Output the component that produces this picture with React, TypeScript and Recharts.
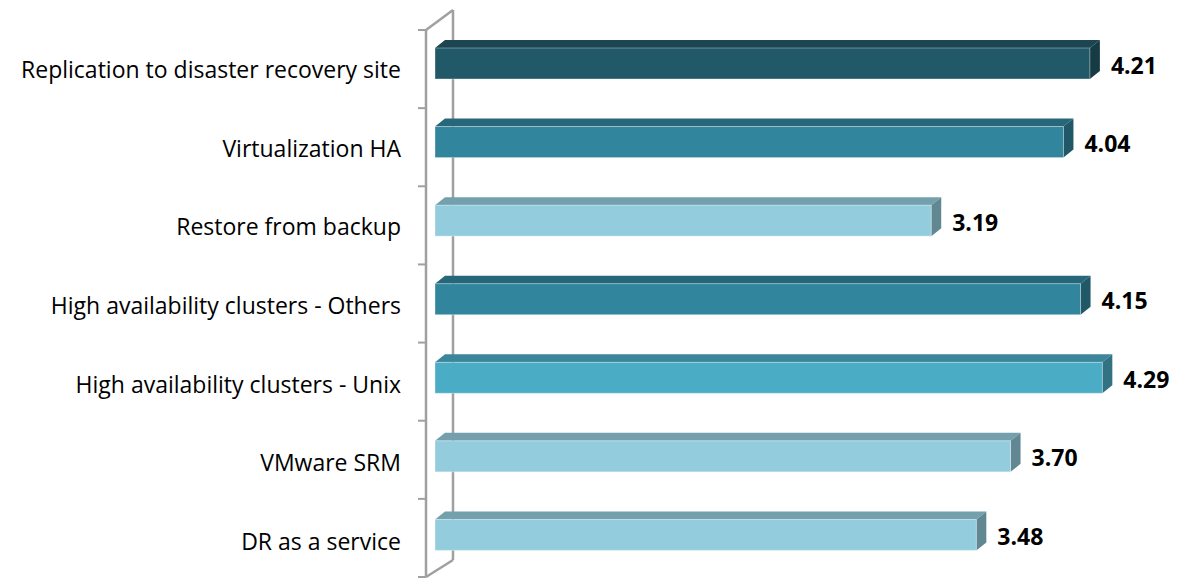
import React from 'react';
import { BarChart, Bar, XAxis, YAxis, LabelList, Customized } from 'recharts';

const categories = [
  'Replication to disaster recovery site',
  'Virtualization HA',
  'Restore from backup',
  'High availability clusters - Others',
  'High availability clusters - Unix',
  'VMware SRM',
  'DR as a service',
];
const values = [4.21, 4.04, 3.19, 4.15, 4.29, 3.7, 3.48];
const frontColors = ['#215968', '#31859C', '#93CDDD', '#31859C', '#4BACC6', '#93CDDD', '#93CDDD'];

const data = categories.map((name, i) => ({ name, value: values[i], idx: i }));

const W = 1190;
const H = 579;
const MARGIN = { top: 24, right: 55, bottom: 5, left: 0 };
const YW = 435;
const DX = 10;
const DY = 8;
const FONT = '"Open Sans", "Liberation Sans", sans-serif';

function shade(hex: string, f: number) {
  const n = parseInt(hex.slice(1), 16);
  const r = Math.round(((n >> 16) & 255) * f);
  const g = Math.round(((n >> 8) & 255) * f);
  const b = Math.round((n & 255) * f);
  return `rgb(${r},${g},${b})`;
}

const Bar3D = (props: any) => {
  const { x, y, width, height, index } = props;
  const c = frontColors[index % frontColors.length];
  const top = shade(c, 0.78);
  const side = shade(c, 0.66);
  return (
    <g>
      <polygon
        points={`${x},${y} ${x + DX},${y - DY} ${x + width + DX},${y - DY} ${x + width},${y}`}
        fill={top}
      />
      <polygon
        points={`${x + width},${y} ${x + width + DX},${y - DY} ${x + width + DX},${y + height - DY} ${x + width},${y + height}`}
        fill={side}
      />
      <rect x={x} y={y} width={width} height={height} fill={c} stroke="rgba(255,255,255,0.35)" strokeWidth={1} />
    </g>
  );
};

const Wall = () => {
  const left = MARGIN.left + YW;
  const top = MARGIN.top;
  const bottom = H - MARGIN.bottom;
  const fx = left - 9;
  const bx = left + 18;
  const ftop = top + 6;
  const btop = top - 14;
  const fbot = bottom + 3;
  const bbot = bottom - 14;
  const n = categories.length;
  const step = (fbot - ftop) / n;
  const ticks = Array.from({ length: n + 1 }, (_, i) => ftop + i * step);
  const stroke = '#A0A0A0';
  return (
    <g>
      <line x1={bx} y1={btop} x2={bx} y2={bbot} stroke={stroke} strokeWidth={2.5} />
      <line x1={fx} y1={ftop} x2={bx} y2={btop} stroke={stroke} strokeWidth={2.5} />
      <line x1={fx} y1={fbot} x2={bx} y2={bbot} stroke={stroke} strokeWidth={2.5} />
      <line x1={fx} y1={ftop} x2={fx} y2={fbot} stroke={stroke} strokeWidth={2.5} />
      {ticks.map((t, i) => (
        <line key={i} x1={fx - 8} y1={t} x2={fx} y2={t} stroke={stroke} strokeWidth={2} />
      ))}
    </g>
  );
};

const CatTick = (props: any) => {
  const { x, y, payload } = props;
  return (
    <text x={x} y={y + 7} dy="0.35em" textAnchor="end" fill="#000" fontSize={23} fontFamily={FONT}>
      {payload.value}
    </text>
  );
};

const ValueLabel = (props: any) => {
  const { x, y, width, height, value } = props;
  return (
    <text
      x={x + width + 21}
      y={y + height / 2 + 2}
      dy="0.35em"
      textAnchor="start"
      fill="#000"
      fontSize={23}
      fontWeight="bold"
      fontFamily={FONT}
    >
      {Number(value).toFixed(2)}
    </text>
  );
};

export default function App() {
  return (
    <div style={{ position: 'absolute', left: 0, top: 0, width: W, height: H, background: '#fff' }}>
      <BarChart width={W} height={H} data={data} layout="vertical" margin={MARGIN} barSize={31}>
        <Customized component={<Wall />} />
        <XAxis type="number" domain={[0, 4.5]} hide />
        <YAxis
          type="category"
          dataKey="name"
          width={YW}
          axisLine={false}
          tickLine={false}
          tickSize={6}
          tickMargin={28}
          tick={<CatTick />}
          interval={0}
        />
        <Bar dataKey="value" shape={<Bar3D />} isAnimationActive={false}>
          <LabelList dataKey="value" content={<ValueLabel />} />
        </Bar>
      </BarChart>
    </div>
  );
}
